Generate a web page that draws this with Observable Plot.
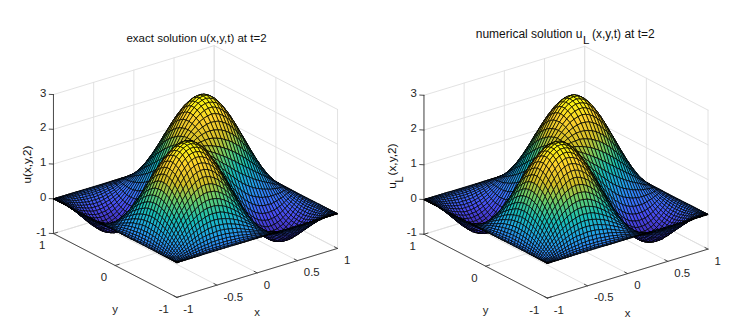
<!DOCTYPE html>
<html>
<head>
<meta charset="utf-8">
<script src="https://cdn.jsdelivr.net/npm/d3@7"></script>
<script src="https://cdn.jsdelivr.net/npm/@observablehq/plot@0.6"></script>
<style>
html,body{margin:0;padding:0;background:#fff}
#chart{display:flex;width:739px;height:329px;overflow:hidden}
svg{display:block;flex:none}
</style>
</head>
<body>
<div id="chart"></div>
<script>
// The mesh bunches up towards the edges of the square; these are its lines for |x| or |y|, centre to edge.
const meshNodes = [0,.0523,.1045,.1564,.2079,.2588,.309,.3584,.4067,.454,.5,.5446,.5878,.6293,.6691,.7071,.7431,.7771,.809,.8387,.866,.891,.9135,.9336,.9511,.9659,.9781,.9877,.9945,.9986,1];
// Heights in hundredths. The surface is point-symmetric and symmetric in x and y,
// so each row a lists only the nodes b >= a. One table holds the quadrants where x and y share a sign (the humps),
// the other the quadrants where they differ (the valleys).
const humpRows = [
[168,167,166,163,159,154,149,142,135,127,119,110,101,93,83,75,66,58,50,42,35,29,23,17,13,9,6,3,1,0,0],
[171,173,174,175,173,169,165,158,152,144,135,126,115,105,94,84,73,64,54,45,38,30,22,17,12,8,4,2,0,0],
[180,185,188,189,188,185,181,175,167,159,148,137,125,114,101,89,77,66,56,45,36,27,21,14,9,5,2,0,0],
[193,199,203,205,204,202,196,189,180,169,158,144,132,117,103,90,77,64,53,42,32,24,17,11,6,2,0,0],
[209,215,219,221,219,214,207,198,187,175,161,146,131,116,101,86,72,59,47,37,27,19,12,7,3,0,0],
[224,230,233,233,229,222,213,202,189,175,159,142,126,110,94,78,64,51,39,29,20,13,7,3,0,0],
[238,242,242,239,234,224,214,200,185,168,151,134,117,100,84,68,55,42,31,22,14,8,3,1,0],
[247,249,246,241,232,221,207,192,175,158,140,122,104,88,71,57,44,33,23,15,8,3,1,0],
[251,250,244,236,225,211,196,179,161,142,124,107,89,73,58,45,33,23,15,9,4,1,0],
[249,244,236,226,212,196,180,162,143,125,107,90,74,59,45,34,24,15,8,4,1,0],
[240,232,222,208,193,177,160,141,123,106,89,73,58,44,33,23,15,8,4,1,0],
[225,215,203,188,172,155,137,120,103,86,71,57,43,32,23,15,8,4,1,0],
[205,194,179,164,149,132,115,98,82,68,54,42,31,21,13,8,4,1,0],
[183,170,155,140,124,108,93,78,64,51,40,29,20,13,8,3,1,0],
[158,144,130,116,101,86,72,59,47,37,27,19,12,7,3,1,0],
[132,119,106,92,79,67,55,43,34,25,17,12,6,3,0,0],
[108,96,84,72,60,49,39,30,22,16,10,5,3,0,0],
[85,74,63,53,44,35,27,19,14,9,5,3,0,0],
[65,55,46,38,31,23,17,12,8,4,1,0,0],
[48,40,33,26,20,15,10,6,4,1,0,0],
[33,27,22,17,13,9,5,3,1,0,0],
[23,18,14,10,7,5,3,1,0,0],
[14,11,8,5,4,2,1,0,0],
[9,6,4,3,2,1,0,0],
[5,4,2,1,0,0,0],
[2,1,1,0,0,0],
[1,0,0,0,0],
[0,0,0,0],
[0,0,0],
[0,0],
[0]
];
const valleyRows = [
[168,167,166,163,159,154,149,142,135,127,119,110,101,93,83,75,66,58,50,42,35,29,23,17,13,9,6,3,1,0,0],
[163,157,150,143,135,127,119,110,102,92,85,76,69,61,54,48,41,36,30,25,20,16,12,9,6,4,2,2,0,0],
[148,137,126,115,106,95,85,75,67,59,52,45,39,34,29,25,21,18,14,11,8,7,5,4,3,1,0,0,0],
[123,109,97,83,72,60,50,41,34,27,22,18,14,11,9,6,5,4,3,2,2,2,1,1,0,0,0,0],
[93,77,63,49,37,26,17,10,5,1,-3,-4,-7,-6,-7,-6,-6,-5,-5,-3,-3,-1,-2,-1,-1,0,0],
[60,44,29,15,5,-4,-11,-16,-19,-21,-21,-22,-20,-18,-16,-14,-12,-9,-7,-5,-4,-3,-1,-1,0,0],
[26,10,-4,-15,-24,-30,-34,-36,-37,-36,-35,-32,-29,-26,-22,-18,-15,-12,-9,-6,-4,-2,-1,-1,0],
[-7,-21,-32,-41,-46,-49,-51,-50,-49,-46,-42,-38,-32,-28,-23,-19,-14,-11,-7,-5,-2,-1,-1,0],
[-35,-46,-54,-60,-63,-63,-62,-59,-55,-50,-44,-39,-33,-27,-22,-17,-13,-9,-5,-3,-2,-1,0],
[-57,-64,-70,-72,-72,-70,-66,-62,-55,-49,-43,-36,-30,-25,-19,-14,-10,-7,-4,-2,-1,0],
[-72,-76,-78,-78,-75,-71,-66,-59,-53,-46,-39,-33,-26,-20,-15,-11,-7,-4,-2,-1,0],
[-81,-83,-81,-78,-74,-69,-61,-54,-47,-40,-33,-27,-21,-16,-11,-7,-4,-2,-1,0],
[-83,-82,-79,-74,-69,-62,-55,-48,-40,-34,-26,-20,-15,-11,-7,-4,-2,-1,0],
[-81,-78,-73,-68,-60,-54,-47,-40,-32,-27,-20,-15,-10,-7,-4,-1,-1,0],
[-74,-70,-64,-58,-51,-44,-38,-31,-25,-19,-15,-9,-6,-3,-1,-1,0],
[-66,-61,-54,-48,-41,-35,-29,-23,-18,-13,-9,-6,-4,-1,0,0],
[-56,-50,-44,-38,-32,-27,-21,-16,-12,-8,-6,-3,-1,0,0],
[-45,-40,-35,-29,-24,-19,-15,-11,-8,-5,-3,-1,0,0],
[-35,-31,-26,-22,-17,-13,-9,-6,-4,-2,-1,0,0],
[-26,-22,-19,-14,-12,-9,-6,-4,-2,-1,0,0],
[-19,-15,-12,-9,-7,-5,-3,-1,-1,0,0],
[-13,-10,-8,-6,-4,-3,-1,-1,0,0],
[-8,-7,-4,-3,-2,-2,-1,0,0],
[-5,-4,-2,-1,-1,-1,0,0],
[-3,-2,-2,-1,0,0,0],
[-2,-1,-1,0,0,0],
[-1,0,0,0,0],
[0,0,0,0],
[0,0,0],
[0,0],
[0]
];

const xTicks = [-1, -0.5, 0, 0.5, 1];
const yTicks = [-1, 0, 1];
const zTicks = [-1, 0, 1, 2, 3];
const xTickLabels = ["-1", "-0.5", "0", "0.5", "1"];
const yTickLabels = ["-1", "0", "1"];
const zTickLabels = ["-1", "0", "1", "2", "3"];
const parula = ["#3e26a8","#484cf0","#327ffc","#20a5e3","#19bfb6","#64cd6f","#d1bf27","#fccf2e","#f9fb0e"];
const colorDomain = [-0.84, 2.52];

// MATLAB-style orthographic view
const azimuth = 37.5 * Math.PI / 180, sinElevation = 0.397, zStretch = 0.343, pxPerUnit = 101.3;
const project = (x, y, z) => [
  Math.cos(azimuth) * x - Math.sin(azimuth) * y,
  sinElevation * (Math.sin(azimuth) * x + Math.cos(azimuth) * y) + zStretch * (z - 1)
];
const heightAt = (i, j) => {
  const p = Math.abs(i - 30), q = Math.abs(j - 30);
  const a = Math.min(p, q), b = Math.max(p, q);
  return ((i - 30) * (j - 30) >= 0 ? humpRows : valleyRows)[a][b - a] / 100;
};
const meshCoord = i => Math.sign(i - 30) * meshNodes[Math.abs(i - 30)];

// surface faces, painted from the far corner (x=1,y=1) to the near one
const faces = [];
for (let i = 59; i >= 0; i--) for (let j = 59; j >= 0; j--) {
  const corners = [[i,j],[i+1,j],[i+1,j+1],[i,j+1],[i,j]];
  const h = d3.mean(corners.slice(0,4), ([p,q]) => heightAt(p,q));
  const id = i * 100 + j;
  for (const [p,q] of corners) {
    const [X,Y] = project(meshCoord(p), meshCoord(q), heightAt(p,q));
    faces.push({id, X, Y, h});
  }
}

const segs = (list) => list.flatMap((s, k) => s.map(([x,y,z]) => {
  const [X,Y] = project(x,y,z); return {k, X, Y};
}));
const gridLines = segs([
  ...xTicks.map(v => [[v,1,-1],[v,1,3]]),
  ...xTicks.map(v => [[v,-1,-1],[v,1,-1]]),
  ...yTicks.map(v => [[1,v,-1],[1,v,3]]),
  ...yTicks.map(v => [[-1,v,-1],[1,v,-1]]),
  ...zTicks.map(v => [[-1,1,v],[1,1,v]]),
  ...zTicks.map(v => [[1,1,v],[1,-1,v]])
]);
const axisLines = segs([
  [[-1,1,-1],[-1,1,3]],
  [[-1,1,-1],[-1,-1,-1]],
  [[-1,-1,-1],[1,-1,-1]],
  ...xTicks.map(v => [[v,-1,-1],[v,-0.95,-1]]),
  ...yTicks.map(v => [[-1,v,-1],[-0.95,v,-1]]),
  ...zTicks.map(v => [[-1,1,v],[-1.03,1.03,v]])
]);
const labelsAt = (values, labels, f) => values.map((v,i) => { const [X,Y] = f(v); return {X,Y,t:labels[i]}; });

const W = [370, 369], H = 329;
const font = {fontFamily:"Liberation Sans, Arial, sans-serif", fontSize:11.4, fill:"#262626"};

function panel(w, cx, cy, extra) {
  return Plot.plot({
    width:w, height:H, margin:0, style:{background:"#fff", overflow:"hidden"},
    x:{axis:null, domain:[-cx/pxPerUnit,(w-cx)/pxPerUnit], range:[0,w]},
    y:{axis:null, domain:[(cy-H)/pxPerUnit, cy/pxPerUnit], range:[H,0]},
    color:{type:"linear", domain:colorDomain, range:parula, clamp:true, interpolate:"rgb"},
    marks:[
      Plot.line(gridLines,{x:"X",y:"Y",z:"k",stroke:"#dfdfdf",strokeWidth:0.9}),
      Plot.line(axisLines,{x:"X",y:"Y",z:"k",stroke:"#3a3a3a",strokeWidth:0.9}),
      Plot.line(faces,{x:"X",y:"Y",z:"id",fill:"h",stroke:"#000",strokeWidth:0.72}),
      Plot.text(labelsAt(zTicks,zTickLabels,v=>project(-1,1,v)),{x:"X",y:"Y",text:"t",textAnchor:"end",dx:-7,dy:-1.5,...font}),
      Plot.text(labelsAt(yTicks,yTickLabels,v=>project(-1,v,-1)),{x:"X",y:"Y",text:"t",textAnchor:"end",dx:-8,dy:12,...font}),
      Plot.text(labelsAt(xTicks,xTickLabels,v=>project(v,-1,-1)),{x:"X",y:"Y",text:"t",textAnchor:"start",dx:6.5,dy:12,...font}),
      Plot.text(labelsAt([0],["x"],v=>project(v,-1,-1)),{x:"X",y:"Y",text:"t",textAnchor:"middle",dy:39.5,...font}),
      Plot.text(labelsAt([0],["y"],v=>project(-1,v,-1)),{x:"X",y:"Y",text:"t",textAnchor:"middle",dy:44,...font}),
      ...extra
    ]
  });
}
const frameText = (t, left, top, anchor="middle", size=11.5, rotate=0) =>
  Plot.text([t],{frameAnchor:"top-left",dx:left,dy:top,text:d=>d,textAnchor:anchor,lineAnchor:"middle",rotate,
    fontFamily:font.fontFamily,fontSize:size,fill:"#111"});

const chart = document.getElementById("chart");
chart.append(
  panel(W[0],195,171,[
    frameText("exact solution u(x,y,t) at t=2",196,38),
    frameText("u(x,y,2)",27,164,"middle",11.6,-90)
  ]),
  panel(W[1],195.5,171.7,[
    frameText("numerical solution u",212,34,"end",12),
    frameText("L",212.5,40,"start",11.5),
    frameText("(x,y,t) at t=2",221.5,34,"start",12),
    frameText("u",22,185,"middle",11.8,-90),
    frameText("L",29,179,"middle",11.5,-90),
    frameText("(x,y,2)",22,159,"middle",11.8,-90)
  ])
);
</script>
</body>
</html>
